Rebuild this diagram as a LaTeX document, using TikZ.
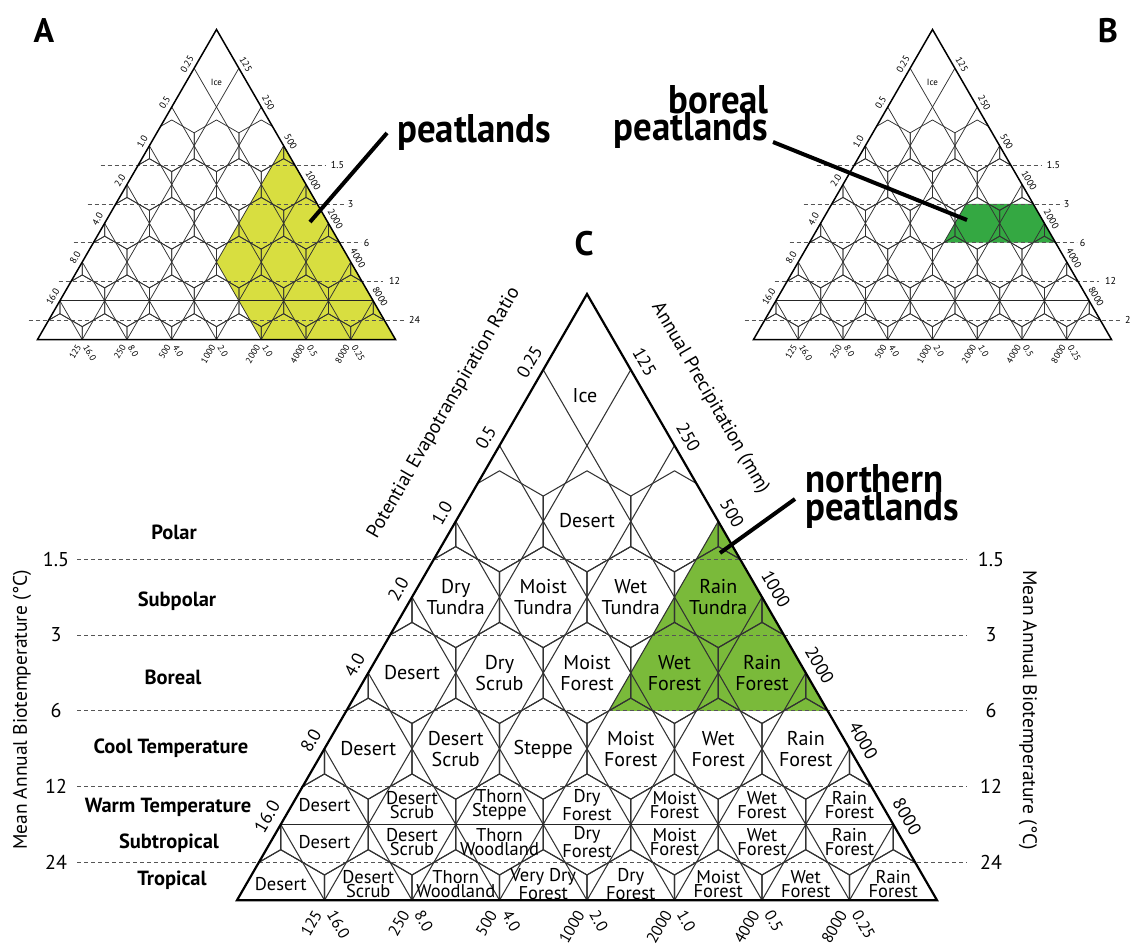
\documentclass[tikz,border=0pt]{standalone}
\usepackage{fontspec}
\setmainfont{PT Sans}
\definecolor{peatC}{RGB}{122,186,58}
\definecolor{peatB}{RGB}{52,168,66}
\definecolor{peatA}{RGB}{216,222,64}
\definecolor{gridc}{RGB}{50,50,50}
\definecolor{dashc}{RGB}{85,85,85}
\newcommand\narrowbig[1]{\scalebox{0.92}[1]{#1}}
\tikzset{
  trisys/.style n args={3}{xshift=#1pt,yshift=-#2pt,x=#3pt,y=-#3pt},
  zone/.style={font=\fontsize{20}{21}\selectfont, align=center, inner sep=0pt},
  zonet/.style={font=\fontsize{18.5}{13.5}\selectfont, align=center, inner sep=0pt},
  belt/.style={font=\bfseries\fontsize{20.5}{21}\selectfont, inner sep=0pt},
  num/.style={font=\fontsize{20}{20}\selectfont, inner sep=0pt},
  axtitle/.style={font=\fontsize{19.5}{19.5}\selectfont, inner sep=0pt},
  big/.style={font=\bfseries\fontsize{40}{30}\selectfont, inner sep=0pt},
  panel/.style={font=\bfseries\fontsize{34}{34}\selectfont, inner sep=0pt},
  callout/.style={line width=4pt, black},
  dashline/.style={dashc, line width=#1pt, dash pattern=on 4pt off 3pt},
}
% #1 apex x, #2 apex y, #3 unit, #4 grid lw, #5 outline lw, #6 solid lw
\newcommand\hgrid[6]{%
  \begin{scope}[trisys={#1}{#2}{#3}]
    \begin{scope}
      \clip (0,0) -- (-4,6.928203) -- (4,6.928203) -- cycle;
      \foreach \k in {1,...,7}{%
        \draw[gridc,line width=#4pt] ({-\k/2},{\k*0.866025}) -- ({4-\k},6.928203);
        \draw[gridc,line width=#4pt] ({\k/2},{\k*0.866025}) -- ({\k-4},6.928203);
      }
      \foreach \r in {3,...,8}{%
        \foreach \m in {-9,...,9}{%
          \pgfmathtruncatemacro\hxpar{mod(abs(\m+\r),2)}%
          \ifnum\hxpar=1
            \pgfmathsetmacro\hcx{\m/2}%
            \pgfmathsetmacro\hcy{\r*0.866025}%
            \draw[gridc,line width=#4pt,line join=round] ({\hcx},{\hcy-0.57735}) -- ({\hcx+0.5},{\hcy-0.288675}) -- ({\hcx+0.5},{\hcy+0.288675}) -- ({\hcx},{\hcy+0.57735}) -- ({\hcx-0.5},{\hcy+0.288675}) -- ({\hcx-0.5},{\hcy-0.288675}) -- cycle;
          \fi
        }
      }
    \end{scope}
    \draw[black!85,line width=#6pt] (-3.5,6.062178) -- (3.5,6.062178);
    \draw[black,line width=#5pt,line join=miter] (0,0) -- (-4,6.928203) -- (4,6.928203) -- cycle;
  \end{scope}}
% #1 apex x, #2 apex y, #3 unit, #4 side font size, #5 prefix, #6 bottom font size
\newcommand\hlabels[6]{%
  \begin{scope}[trisys={#1}{#2}{#3}]
    \foreach \k/\lab in {1/0.25,2/0.5,3/1.0,4/2.0,5/4.0,6/8.0,7/16.0}{%
      \node[font=\fontsize{#4}{#4}\selectfont,rotate=60,inner sep=0pt] (#5L\k) at ({-\k/2-0.158},{\k*0.866025-0.0915}) {\lab};
    }
    \foreach \k/\lab in {1/125,2/250,3/500,4/1000,5/2000,6/4000,7/8000}{%
      \node[font=\fontsize{#4}{#4}\selectfont,rotate=-60,inner sep=0pt] (#5R\k) at ({\k/2+0.158},{\k*0.866025-0.0915}) {\lab};
    }
    \foreach \j/\pa/\pb in {1/125/16.0,2/250/8.0,3/500/4.0,4/1000/2.0,5/2000/1.0,6/4000/0.5,7/8000/0.25}{%
      \node[font=\fontsize{#6}{#6}\selectfont,rotate=60,anchor=east,inner sep=0pt] (#5P\j) at ({\j-4-0.075},{6.928203+0.13}) {\pa};
      \node[font=\fontsize{#6}{#6}\selectfont,rotate=-60,anchor=west,inner sep=0pt] (#5Q\j) at ({\j-4+0.075},{6.928203+0.13}) {\pb};
    }
  \end{scope}}
% small dashed lines: #1 apex x, #2 apex y, #3 row height, #4 prefix
\newcommand\hdash[4]{%
  \foreach \r/\lab/\xa/\xb/\xl [count=\i] in {3.5/1.5/-116/109/121, 4.5/3/-129/130/134, 5.5/6/-143/144/150, 6.5/12/-158/166/178, 7.5/24/-188/189/198}{%
    \pgfmathsetmacro\yy{#2+\r*#3}
    \draw[dashline=0.7] ({#1+\xa},\yy) -- ({#1+\xb},\yy);
    \node[font=\fontsize{10}{10}\selectfont,inner sep=0pt] (#4d\i) at ({#1+\xl},\yy) {\lab};
  }}
\begin{document}
\begin{tikzpicture}[x=1pt,y=-1pt]
\path[use as bounding box] (0,0) rectangle (1130,945);
\fill[white] (0,0) rectangle (1130,945);

% ---------- fills ----------
\begin{scope}[trisys={216.5}{29.5}{44.75}]
  \fill[peatA] (1.5,2.598076) -- (4,6.928203) -- (1,6.928203) -- (0,5.196152) -- cycle;
\end{scope}
\begin{scope}[trisys={932.5}{29.5}{44.75}]
  \fill[peatB] (0.75,3.897114) -- (2.25,3.897114) -- (2.75,4.763140) -- (0.25,4.763140) -- cycle;
\end{scope}
\begin{scope}[trisys={587}{294}{87.5}]
  \fill[peatC] (1.5,2.598076) -- (2.75,4.763140) -- (0.25,4.763140) -- cycle;
\end{scope}

% ---------- dashed biotemperature lines ----------
\hdash{216.5}{29.5}{38.755}{A}
\hdash{932.5}{29.5}{38.755}{B}
\foreach \yy/\lab [count=\i] in {559.2/1.5, 635.0/3, 710.8/6, 786.5/12, 862.3/24}{%
  \draw[dashline=0.9] (77,\yy) -- (967,\yy);
  \node[num] (nl\i) at (56,\yy) {\lab};
  \node[num] (nr\i) at (991,\yy) {\lab};
}

% ---------- grids ----------
\hgrid{216.5}{29.5}{44.75}{0.75}{1.5}{1.2}
\hgrid{932.5}{29.5}{44.75}{0.75}{1.5}{1.2}
\hgrid{587}{294}{87.5}{1.05}{2.2}{1.9}

% ---------- side labels ----------
\hlabels{216.5}{29.5}{44.75}{9.5}{A}{9}
\hlabels{932.5}{29.5}{44.75}{9.5}{B}{9}
\hlabels{587}{294}{87.5}{18}{C}{16}
\node[font=\fontsize{9}{9}\selectfont,inner sep=0pt] (iceA) at (216.5,82) {Ice};
\node[font=\fontsize{9}{9}\selectfont,inner sep=0pt] (iceB) at (932.5,82) {Ice};
\node[zone] (iceC) at (585,396) {Ice};

% ---------- zone labels in C ----------
\node[zone] (z30) at (587,521) {Desert};
\foreach \m/\t [count=\i] in {-3/{Dry\\Tundra},-1/{Moist\\Tundra},1/{Wet\\Tundra},3/{Rain\\Tundra}}
  \node[zone] (z4\i) at ({587+43.75*\m},597) {\t};
\foreach \m/\t [count=\i] in {-4/{Desert},-2/{Dry\\Scrub},0/{Moist\\Forest},2/{Wet\\Forest},4/{Rain\\Forest}}
  \node[zone] (z5\i) at ({587+43.75*\m},673) {\t};
\foreach \m/\t [count=\i] in {-5/{Desert},-3/{Desert\\Scrub},-1/{Steppe},1/{Moist\\Forest},3/{Wet\\Forest},5/{Rain\\Forest}}
  \node[zone] (z6\i) at ({587+43.75*\m},749) {\t};
\foreach \m/\t [count=\i] in {-6/{Desert},-4/{Desert\\Scrub},-2/{Thorn\\Steppe},0/{Dry\\Forest},2/{Moist\\Forest},4/{Wet\\Forest},6/{Rain\\Forest}}
  \node[zonet] (zw\i) at ({587+43.75*\m},805) {\t};
\foreach \m/\t [count=\i] in {-6/{Desert},-4/{Desert\\Scrub},-2/{Thorn\\Woodland},0/{Dry\\Forest},2/{Moist\\Forest},4/{Wet\\Forest},6/{Rain\\Forest}}
  \node[zonet] (zs\i) at ({587+43.75*\m},842) {\t};
\foreach \m/\t [count=\i] in {-7/{Desert},-5/{Desert\\Scrub},-3/{Thorn\\Woodland},-1/{Very Dry\\Forest},1/{Dry\\Forest},3/{Moist\\Forest},5/{Wet\\Forest},7/{Rain\\Forest}}
  \node[zonet] (zt\i) at ({587+43.75*\m},884) {\t};

% ---------- belts ----------
\node[belt] (bPolar) at (174,532) {Polar};
\node[belt] (bSubpolar) at (177,601) {Subpolar};
\node[belt] (bBoreal) at (173,677) {Boreal};
\node[belt] (bCool) at (171,748) {Cool Temperature};
\node[belt] (bWarm) at (168,807) {Warm Temperature};
\node[belt] (bSub) at (169,843) {Subtropical};
\node[belt] (bTrop) at (172,880) {Tropical};

% ---------- axis titles ----------
\node[axtitle,rotate=90] (axL) at (22,710) {Mean Annual Biotemperature (°C)};
\node[axtitle,rotate=-90] (axR) at (1028,710) {Mean Annual Biotemperature (°C)};
\node[axtitle,rotate=60] (axPET) at (444,413) {Potential Evapotranspiration Ratio};
\node[axtitle,rotate=-60] (axPP) at (710,398) {Annual Precipitation (mm)};

% ---------- panel letters ----------
\node[panel] (pA) at (44,31) {A};
\node[panel] (pB) at (1108,31) {B};
\node[panel] (pC) at (584,244) {C};

% ---------- callouts ----------
\node[big,anchor=base west] (tA) at (397,142) {\narrowbig{peatlands}};
\node[big,anchor=base east] (tB1) at (769,113) {\narrowbig{boreal}};
\node[big,anchor=base east] (tB2) at (768,140) {\narrowbig{peatlands}};
\node[big,anchor=base west] (tC1) at (805,492) {\narrowbig{northern}};
\node[big,anchor=base west] (tC2) at (805,520) {\narrowbig{peatlands}};
\coordinate (cA1) at (310,222); \coordinate (cA2) at (387,133);
\coordinate (cB1) at (967,220); \coordinate (cB2) at (773,142);
\coordinate (cC1) at (720,553); \coordinate (cC2) at (795,499);
\draw[callout] (cA1) -- (cA2);
\draw[callout] (cB1) -- (cB2);
\draw[callout] (cC1) -- (cC2);
\end{tikzpicture}
\end{document}
